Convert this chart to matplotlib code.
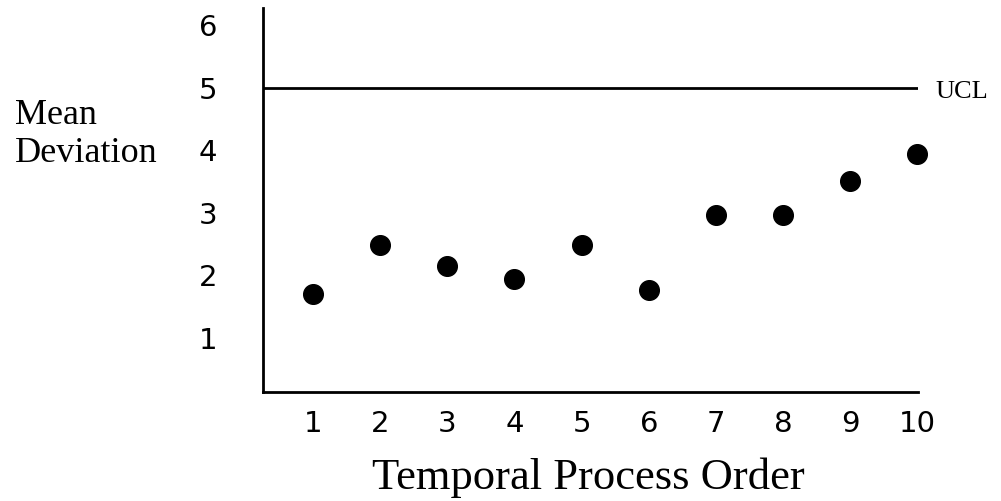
import matplotlib
matplotlib.use('Agg')
import matplotlib.pyplot as plt

# process order and mean deviation
order = [1, 2, 3, 4, 5, 6, 7, 8, 9, 10]
mean_dev = [1.70, 2.48, 2.15, 1.94, 2.48, 1.76, 2.96, 2.96, 3.51, 3.94]
ucl = 5
y_ticks = [1, 2, 3, 4, 5, 6]

fig = plt.figure(figsize=(10.01, 5.01), dpi=100)
ax = fig.add_axes([0.2627, 0.2176, 0.6545, 0.7665])

ax.scatter(order, mean_dev, s=200, color='black', zorder=3, clip_on=False)
ax.axhline(ucl, color='black', linewidth=2)

ax.set_xlim(0.255, 10.01)
ax.set_ylim(0.13, 6.28)
ax.set_xticks(order)
ax.set_yticks(y_ticks)
ax.tick_params(length=0, labelsize=21)
ax.tick_params(axis='y', pad=33)
ax.tick_params(axis='x', pad=13)

for side in ['top', 'right']:
    ax.spines[side].set_visible(False)
for side in ['left', 'bottom']:
    ax.spines[side].set_linewidth(2)

serif = 'Liberation Serif'
fig.text(15 / 1001, 1 - 115 / 501, 'Mean', fontsize=26, family=serif, va='center', ha='left')
fig.text(15 / 1001, 1 - 154 / 501, 'Deviation', fontsize=26, family=serif, va='center', ha='left')
fig.text(935 / 1001, 1 - 92 / 501, 'UCL', fontsize=19, family=serif, va='center', ha='left')
fig.text(588 / 1001, 1 - 478 / 501, 'Temporal Process Order', fontsize=32, family=serif,
         va='center', ha='center')

plt.savefig('out.png', dpi=100)
